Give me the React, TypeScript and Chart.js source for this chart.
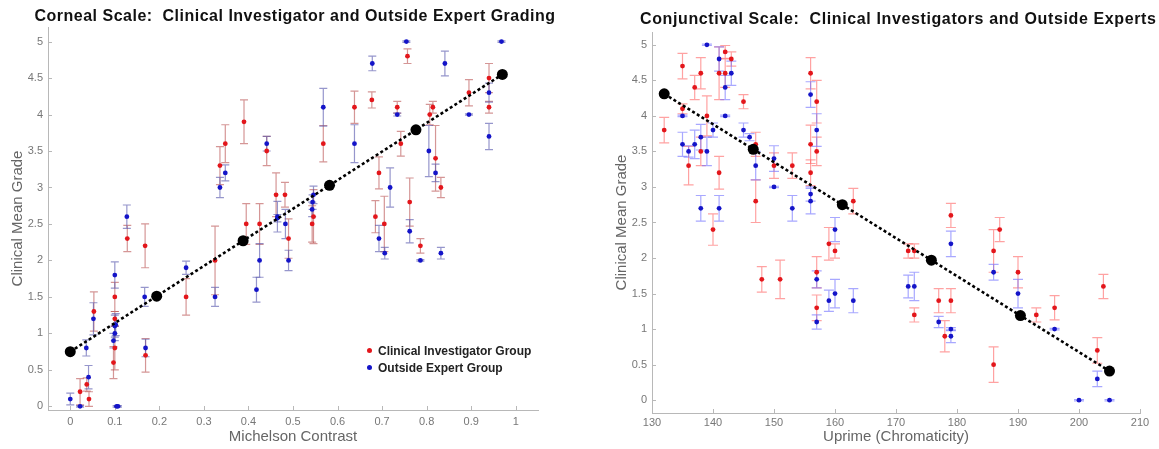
import React, { useEffect, useRef } from 'react';
import { Chart, registerables } from 'chart.js';

Chart.register(...registerables);

type Pt = [number, number, number]; // [x, mean grade, error half-length]

// ---------- Corneal scale (left) ----------
const cornealInvestigator: Pt[] = [
  [0.022, 0.2, 0.18], [0.037, 0.3, 0.09], [0.042, 0.1, 0.1], [0.053, 1.3, 0.27],
  [0.097, 0.6, 0.22], [0.1, 1.5, 0.2], [0.1, 1.2, 0.1], [0.1, 0.8, 0.3],
  [0.128, 2.3, 0.18], [0.168, 2.2, 0.3], [0.169, 0.7, 0.23], [0.26, 1.5, 0.25],
  [0.325, 2.0, 0.47], [0.336, 3.3, 0.26], [0.348, 3.6, 0.26], [0.39, 3.9, 0.3],
  [0.395, 2.5, 0.28], [0.425, 2.5, 0.28], [0.441, 3.5, 0.2], [0.462, 2.9, 0.3],
  [0.482, 2.9, 0.17], [0.49, 2.3, 0.27], [0.543, 2.5, 0.25], [0.546, 2.6, 0.37],
  [0.568, 3.6, 0.25], [0.638, 4.1, 0.22], [0.677, 4.2, 0.11], [0.685, 2.6, 0.22],
  [0.693, 3.2, 0.22], [0.705, 2.5, 0.38], [0.734, 4.1, 0.08], [0.742, 3.6, 0.17],
  [0.757, 4.8, 0.1], [0.762, 2.8, 0.33], [0.786, 2.2, 0.1], [0.807, 4.0, 0.14],
  [0.814, 4.1, 0.08], [0.82, 3.4, 0.45], [0.832, 3.0, 0.14], [0.895, 4.3, 0.18],
  [0.94, 4.5, 0.2], [0.94, 4.1, 0.08],
];
const cornealExpert: Pt[] = [
  [0, 0.1, 0.08], [0.022, 0, 0.01], [0.036, 0.8, 0.11], [0.041, 0.4, 0.16],
  [0.052, 1.2, 0.22], [0.097, 0.9, 0.1], [0.1, 1.0, 0.1], [0.1, 1.1, 0.15],
  [0.102, 1.12, 0.15], [0.1, 1.8, 0.18], [0.104, 0, 0.01], [0.107, 0, 0.01],
  [0.127, 2.6, 0.16], [0.167, 1.5, 0.13], [0.169, 0.8, 0.12], [0.26, 1.9, 0.09],
  [0.325, 1.5, 0.13], [0.336, 3.0, 0.14], [0.348, 3.2, 0.11], [0.418, 1.6, 0.17],
  [0.425, 2.0, 0.23], [0.441, 3.6, 0.1], [0.465, 2.6, 0.21], [0.465, 2.58, 0.05],
  [0.483, 2.5, 0.2], [0.49, 2.0, 0.14], [0.543, 2.7, 0.1], [0.544, 2.8, 0.1],
  [0.546, 2.9, 0.12], [0.568, 4.1, 0.26], [0.638, 3.6, 0.26], [0.678, 4.7, 0.1],
  [0.693, 2.3, 0.18], [0.706, 2.1, 0.08], [0.718, 3.0, 0.27], [0.734, 4.0, 0.02],
  [0.7545, 5.0, 0.01], [0.762, 2.4, 0.16], [0.786, 2.0, 0.01], [0.805, 3.5, 0.35],
  [0.82, 3.2, 0.12], [0.832, 2.1, 0.08], [0.841, 4.7, 0.17], [0.895, 4.0, 0.01],
  [0.94, 4.3, 0.13], [0.94, 3.7, 0.18], [0.968, 5.0, 0.01],
];
const cornealFitX = [0, 0.194, 0.388, 0.582, 0.776, 0.97];
const cornealFitY = [0.75, 1.51, 2.27, 3.03, 3.79, 4.55];
const contrastTicks = [0, 0.1, 0.2, 0.3, 0.4, 0.5, 0.6, 0.7, 0.8, 0.9, 1];

// ---------- Conjunctival scale (right) ----------
const conjInvestigator: Pt[] = [
  [132, 3.8, 0.18], [135, 4.7, 0.18], [135, 4.1, 0.07], [136, 3.3, 0.27],
  [137, 4.4, 0.17], [138, 4.6, 0.22], [138, 3.5, 0.2], [139, 4.0, 0.28],
  [140, 2.4, 0.22], [141, 3.2, 0.23], [141, 4.6, 0.37], [142, 4.9, 0.09],
  [142, 4.6, 0.2], [143, 4.8, 0.1], [145, 4.2, 0.1], [147, 3.6, 0.17],
  [147, 2.8, 0.3], [148, 1.7, 0.18], [150, 3.3, 0.18], [151, 1.7, 0.27],
  [153, 3.3, 0.18], [156, 4.6, 0.22], [156, 3.6, 0.27], [156, 3.2, 0.18],
  [157, 4.2, 0.3], [157, 3.5, 0.2], [157, 1.8, 0.22], [157, 1.3, 0.18],
  [159, 2.2, 0.23], [160, 2.1, 0.1], [163, 2.8, 0.18], [172, 2.1, 0.1],
  [173, 2.1, 0.1], [173, 1.2, 0.1], [177, 1.4, 0.17], [178, 0.9, 0.22],
  [179, 1.4, 0.17], [179, 2.6, 0.17], [186, 2.1, 0.3], [187, 2.4, 0.17],
  [186, 0.5, 0.25], [190, 1.8, 0.22], [193, 1.2, 0.1], [196, 1.3, 0.17],
  [203, 0.7, 0.18], [204, 1.6, 0.17],
];
const conjExpert: Pt[] = [
  [135, 4.0, 0.01], [135, 3.6, 0.17], [136, 3.5, 0.08], [137, 3.6, 0.2],
  [138, 3.7, 0.18], [138, 2.7, 0.18], [139, 5.0, 0.01], [139, 3.5, 0.2],
  [140, 3.8, 0.1], [141, 4.8, 0.17], [141, 2.7, 0.18], [142, 4.4, 0.17],
  [142, 4.0, 0.01], [143, 4.6, 0.17], [145, 3.8, 0.1], [146, 3.7, 0.05],
  [147, 3.3, 0.2], [150, 3.4, 0.18], [150, 3.0, 0.01], [153, 2.7, 0.18],
  [156, 4.3, 0.18], [156, 2.9, 0.1], [156, 2.8, 0.18], [157, 3.8, 0.23],
  [157, 1.7, 0.12], [157, 1.1, 0.1], [159, 1.4, 0.15], [160, 2.4, 0.17],
  [160, 1.5, 0.2], [163, 1.4, 0.17], [172, 1.6, 0.16], [173, 1.6, 0.2],
  [177, 1.1, 0.08], [179, 2.2, 0.18], [179, 1.0, 0.02], [179, 0.9, 0.09],
  [186, 1.8, 0.11], [190, 1.5, 0.2], [196, 1.0, 0.01], [200, 0, 0.01],
  [203, 0.3, 0.11], [205, 0, 0.01],
];
const conjFitX = [132, 146.6, 161.2, 175.8, 190.4, 205];
const conjFitY = [4.31, 3.53, 2.75, 1.97, 1.19, 0.41];
const chromaTicks = [130, 140, 150, 160, 170, 180, 190, 200, 210];

const gradeTicks = [0, 0.5, 1, 1.5, 2, 2.5, 3, 3.5, 4, 4.5, 5];

const FONT = "'Liberation Sans', Arial, Helvetica, sans-serif";
const RED = '#e3161b';
const BLUE = '#1414c8';
const AXIS = '#b8b8b8';

const errorBarPlugin = {
  id: 'errorBars',
  beforeDatasetsDraw(chart: any, _args: any, opts: any) {
    const { ctx, scales } = chart;
    const xs = scales.x;
    const ys = scales.y;
    chart.data.datasets.forEach((ds: any) => {
      if (!ds.errors) return;
      ctx.save();
      ctx.strokeStyle = ds.errorColor;
      ctx.lineWidth = 1.2;
      ds.data.forEach((p: any, j: number) => {
        const e = ds.errors[j];
        const px = xs.getPixelForValue(p.x);
        const top = ys.getPixelForValue(p.y + e);
        const bot = ys.getPixelForValue(p.y - e);
        const h = opts.capHalf;
        ctx.beginPath();
        ctx.moveTo(px, top);
        ctx.lineTo(px, bot);
        ctx.moveTo(px - h, top);
        ctx.lineTo(px + h, top);
        ctx.moveTo(px - h, bot);
        ctx.lineTo(px + h, bot);
        ctx.stroke();
      });
      ctx.restore();
    });
  },
};

const innerTickPlugin = {
  id: 'innerTicks',
  beforeDatasetsDraw(chart: any) {
    const { ctx, scales, chartArea } = chart;
    ctx.save();
    ctx.strokeStyle = AXIS;
    ctx.lineWidth = 1;
    ctx.beginPath();
    scales.x.ticks.forEach((t: any) => {
      const px = Math.round(scales.x.getPixelForValue(t.value)) + 0.5;
      ctx.moveTo(px, chartArea.bottom);
      ctx.lineTo(px, chartArea.bottom - 4);
    });
    scales.y.ticks.forEach((t: any) => {
      const py = Math.round(scales.y.getPixelForValue(t.value)) + 0.5;
      ctx.moveTo(chartArea.left, py);
      ctx.lineTo(chartArea.left + 4, py);
    });
    ctx.stroke();
    ctx.restore();
  },
};

interface Cfg {
  red: Pt[];
  blue: Pt[];
  fitX: number[];
  fitY: number[];
  xMin: number;
  xMax: number;
  yMin: number;
  yMax: number;
  xTicks: number[];
  xTitle: string;
  padding: { left: number; right: number; top: number; bottom: number };
  xHeight: number;
  xTickPad: number;
  redBar: string;
  blueBar: string;
  capHalf: number;
}

function buildConfig(c: Cfg): any {
  const toXY = (arr: Pt[]) => arr.map(([x, y]) => ({ x, y }));
  return {
    type: 'scatter',
    data: {
      datasets: [
        {
          label: 'fit',
          data: c.fitX.map((x, i) => ({ x, y: c.fitY[i] })),
          showLine: true,
          borderColor: '#000',
          borderWidth: 2.6,
          borderDash: [3, 2.5],
          pointRadius: 5.5,
          pointBackgroundColor: '#000',
          pointBorderWidth: 0,
          order: 0,
        },
        {
          label: 'Clinical Investigator Group',
          data: toXY(c.red),
          errors: c.red.map((p) => p[2]),
          errorColor: c.redBar,
          pointRadius: 2.4,
          pointBackgroundColor: RED,
          pointBorderWidth: 0,
          order: 1,
        },
        {
          label: 'Outside Expert Group',
          data: toXY(c.blue),
          errors: c.blue.map((p) => p[2]),
          errorColor: c.blueBar,
          pointRadius: 2.4,
          pointBackgroundColor: BLUE,
          pointBorderWidth: 0,
          order: 2,
        },
      ],
    },
    options: {
      animation: false,
      responsive: true,
      maintainAspectRatio: false,
      layout: { padding: c.padding },
      plugins: {
        legend: { display: false },
        tooltip: { enabled: false },
        title: { display: false },
        errorBars: { capHalf: c.capHalf },
      },
      scales: {
        x: {
          type: 'linear',
          min: c.xMin,
          max: c.xMax,
          afterBuildTicks: (s: any) => {
            s.ticks = c.xTicks.map((v) => ({ value: v }));
          },
          afterFit: (s: any) => {
            s.height = c.xHeight;
          },
          grid: { display: false, drawTicks: false },
          border: { color: AXIS, width: 1 },
          ticks: {
            color: '#777',
            font: { family: FONT, size: 11 },
            padding: c.xTickPad,
            autoSkip: false,
            maxRotation: 0,
            callback: (v: any) => String(v),
          },
          title: {
            display: true,
            text: c.xTitle,
            color: '#666',
            font: { family: FONT, size: 15 },
            padding: { top: 0, bottom: 3 },
          },
        },
        y: {
          type: 'linear',
          min: c.yMin,
          max: c.yMax,
          afterBuildTicks: (s: any) => {
            s.ticks = gradeTicks.map((v) => ({ value: v }));
          },
          afterFit: (s: any) => {
            s.width = 40;
          },
          grid: { display: false, drawTicks: false },
          border: { color: AXIS, width: 1 },
          ticks: {
            color: '#777',
            font: { family: FONT, size: 11 },
            padding: 5,
            autoSkip: false,
            callback: (v: any) => String(v),
          },
          title: {
            display: true,
            text: 'Clinical Mean Grade',
            color: '#666',
            font: { family: FONT, size: 15 },
            padding: { top: 1, bottom: 0 },
          },
        },
      },
    },
    plugins: [errorBarPlugin, innerTickPlugin],
  };
}

const titleStyle: React.CSSProperties = {
  position: 'absolute',
  fontFamily: FONT,
  fontWeight: 'bold',
  fontSize: 16,
  lineHeight: '20px',
  letterSpacing: '0.5px',
  color: '#111',
  whiteSpace: 'nowrap',
  textAlign: 'center',
};

const legendText: React.CSSProperties = {
  position: 'absolute',
  fontFamily: FONT,
  fontWeight: 'bold',
  fontSize: 12,
  lineHeight: '14px',
  color: '#222',
  whiteSpace: 'nowrap',
};

const dot = (color: string, left: number, top: number): React.CSSProperties => ({
  position: 'absolute',
  left,
  top,
  width: 5,
  height: 5,
  borderRadius: '50%',
  background: color,
});

export default function App() {
  const leftRef = useRef<HTMLCanvasElement>(null);
  const rightRef = useRef<HTMLCanvasElement>(null);

  useEffect(() => {
    const left = new Chart(
      leftRef.current as HTMLCanvasElement,
      buildConfig({
        red: cornealInvestigator,
        blue: cornealExpert,
        fitX: cornealFitX,
        fitY: cornealFitY,
        xMin: -0.05,
        xMax: 1.05,
        yMin: -0.05,
        yMax: 5.2,
        xTicks: contrastTicks,
        xTitle: 'Michelson Contrast',
        padding: { left: 8, right: 42, top: 27, bottom: 0 },
        xHeight: 39,
        xTickPad: 5,
        redBar: 'rgba(185,80,80,0.6)',
        blueBar: 'rgba(80,80,170,0.6)',
        capHalf: 4,
      })
    );
    const right = new Chart(
      rightRef.current as HTMLCanvasElement,
      buildConfig({
        red: conjInvestigator,
        blue: conjExpert,
        fitX: conjFitX,
        fitY: conjFitY,
        xMin: 130,
        xMax: 210,
        yMin: -0.18,
        yMax: 5.18,
        xTicks: chromaTicks,
        xTitle: 'Uprime (Chromaticity)',
        padding: { left: 32, right: 19, top: 32, bottom: 0 },
        xHeight: 36,
        xTickPad: 3,
        redBar: 'rgba(255,100,100,0.6)',
        blueBar: 'rgba(110,110,255,0.6)',
        capHalf: 5,
      })
    );
    return () => {
      left.destroy();
      right.destroy();
    };
  }, []);

  return (
    <div
      style={{
        position: 'absolute',
        left: 0,
        top: 0,
        width: 1159,
        height: 449,
        background: '#fff',
        overflow: 'hidden',
      }}
    >
      <div style={{ position: 'absolute', left: 0, top: 0, width: 580, height: 449 }}>
        <canvas ref={leftRef} />
      </div>
      <div style={{ position: 'absolute', left: 580, top: 0, width: 579, height: 449 }}>
        <canvas ref={rightRef} />
      </div>
      <div style={{ ...titleStyle, left: 0, width: 590, top: 6 }}>
        Corneal Scale:&nbsp; Clinical Investigator and Outside Expert Grading
      </div>
      <div style={{ ...titleStyle, left: 640, width: 520, top: 9, textAlign: 'left', letterSpacing: '0.62px' }}>
        Conjunctival Scale:&nbsp; Clinical Investigators and Outside Experts
      </div>
      <div style={dot(RED, 367, 348)} />
      <div style={{ ...legendText, left: 378, top: 344 }}>Clinical Investigator Group</div>
      <div style={dot(BLUE, 367, 365)} />
      <div style={{ ...legendText, left: 378, top: 361 }}>Outside Expert Group</div>
    </div>
  );
}
